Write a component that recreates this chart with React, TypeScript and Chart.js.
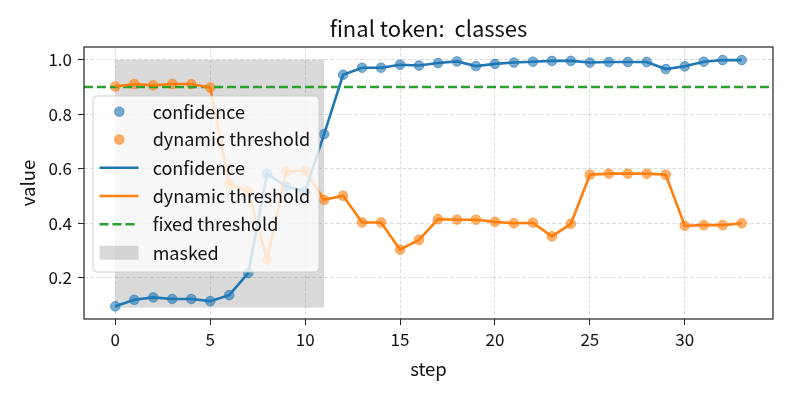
import React, { useEffect, useRef } from "react";
import { Chart, registerables } from "chart.js";

Chart.register(...registerables);

const TITLE = "final token:  classes";
const X_LABEL = "step";
const Y_LABEL = "value";
const STEPS = Array.from({ length: 34 }, (_, i) => i);
const CONFIDENCE = [
  0.095, 0.119, 0.128, 0.122, 0.122, 0.114, 0.136, 0.217, 0.582, 0.535, 0.517, 0.727,
  0.945, 0.971, 0.971, 0.982, 0.979, 0.988, 0.994, 0.977, 0.985, 0.99, 0.993, 0.996,
  0.996, 0.99, 0.992, 0.992, 0.992, 0.966, 0.976, 0.993, 0.999, 0.999,
];
const DYNAMIC = [
  0.902, 0.911, 0.906, 0.911, 0.911, 0.898, 0.545, 0.517, 0.266, 0.59, 0.593, 0.486,
  0.501, 0.403, 0.403, 0.303, 0.339, 0.415, 0.413, 0.413, 0.405, 0.4, 0.402, 0.352,
  0.398, 0.578, 0.582, 0.582, 0.582, 0.578, 0.391, 0.393, 0.393, 0.4,
];
const FIXED_THRESHOLD = 0.9;
const MASK_X = [0, 11];
const MASK_Y = [0.09, 1.0];
const X_TICKS = [0, 5, 10, 15, 20, 25, 30];
const Y_TICKS = [0.2, 0.4, 0.6, 0.8, 1.0];
const X_RANGE = [-1.65, 34.65];
const Y_RANGE = [0.0485, 1.047];
const LEGEND_LABELS = [
  "confidence",
  "dynamic threshold",
  "confidence",
  "dynamic threshold",
  "fixed threshold",
  "masked",
];

const BLUE = "#1f77b4";
const ORANGE = "#ff7f0e";
const GREEN = "#2ca02c";
const BLUE_A = "rgba(31,119,180,0.6)";
const ORANGE_A = "rgba(255,127,14,0.6)";
const FONT = "'Noto Sans CJK SC', 'Noto Sans', sans-serif";
const GREEN_DASH = [9, 4];

export default function App() {
  const ref = useRef<HTMLCanvasElement | null>(null);

  useEffect(() => {
    if (!ref.current) return;
    const pts = (ys: number[]) => STEPS.map((x, i) => ({ x, y: ys[i] }));

    const deco = {
      id: "deco",
      beforeDatasetsDraw(chart: any) {
        const { ctx, scales } = chart;
        const xs = scales.x, ys = scales.y;
        const a = chart.chartArea;
        ctx.save();
        ctx.beginPath();
        ctx.rect(a.left, a.top, a.right - a.left, a.bottom - a.top);
        ctx.clip();
        const x0 = xs.getPixelForValue(MASK_X[0]);
        const x1 = xs.getPixelForValue(MASK_X[1]);
        const y0 = ys.getPixelForValue(MASK_Y[1]);
        const y1 = ys.getPixelForValue(MASK_Y[0]);
        ctx.fillStyle = "rgba(128,128,128,0.3)";
        ctx.fillRect(x0, y0, x1 - x0, y1 - y0);
        ctx.restore();
      },
      afterDraw(chart: any) {
        const { ctx } = chart;
        const a = chart.chartArea;
        ctx.save();
        // frame
        ctx.strokeStyle = "#222";
        ctx.lineWidth = 1.2;
        ctx.strokeRect(a.left, a.top, a.right - a.left, a.bottom - a.top);
        // title and axis labels
        ctx.fillStyle = "#111";
        ctx.textAlign = "center";
        ctx.textBaseline = "alphabetic";
        ctx.font = `22px ${FONT}`;
        ctx.fillText(TITLE, (a.left + a.right) / 2, 37);
        ctx.font = `18.5px ${FONT}`;
        ctx.textBaseline = "middle";
        ctx.fillText(X_LABEL, (a.left + a.right) / 2, 369);
        ctx.save();
        ctx.translate(28, (a.top + a.bottom) / 2);
        ctx.rotate(-Math.PI / 2);
        ctx.fillText(Y_LABEL, 0, 0);
        ctx.restore();

        // legend
        const lx = 93, ly = 96, lw = 226, lh = 176;
        ctx.beginPath();
        (ctx as any).roundRect(lx, ly, lw, lh, 4);
        ctx.fillStyle = "rgba(255,255,255,0.8)";
        ctx.fill();
        ctx.strokeStyle = "rgba(204,204,204,0.9)";
        ctx.lineWidth = 1;
        ctx.stroke();
        const rowY = [111.7, 139.5, 167.8, 196, 224.3, 252.8];
        const hx0 = 99.5, hx1 = 138.5, hc = 119.3, tx = 152.7;
        ctx.font = `18px ${FONT}`;
        ctx.textAlign = "left";
        ctx.textBaseline = "middle";
        rowY.forEach((y, i) => {
          if (i === 0 || i === 1) {
            ctx.beginPath();
            ctx.arc(hc, y, 4.8, 0, Math.PI * 2);
            ctx.fillStyle = i === 0 ? BLUE_A : ORANGE_A;
            ctx.fill();
            ctx.strokeStyle = i === 0 ? BLUE_A : ORANGE_A;
            ctx.lineWidth = 1;
            ctx.stroke();
          } else if (i === 2 || i === 3 || i === 4) {
            ctx.beginPath();
            ctx.moveTo(hx0, y);
            ctx.lineTo(hx1, y);
            ctx.strokeStyle = i === 2 ? BLUE : i === 3 ? ORANGE : GREEN;
            ctx.lineWidth = 2.6;
            ctx.setLineDash(i === 4 ? GREEN_DASH : []);
            ctx.stroke();
            ctx.setLineDash([]);
          } else {
            ctx.fillStyle = "rgba(128,128,128,0.3)";
            ctx.fillRect(hx0, y - 7, hx1 - hx0, 14);
          }
          ctx.fillStyle = "#111";
          ctx.fillText(LEGEND_LABELS[i], tx, y);
        });
        ctx.restore();
      },
    };

    const gridOpts: any = {
      color: "rgba(176,176,176,0.55)",
      lineWidth: 0.8,
      tickColor: "#222",
      tickLength: 6,
      tickWidth: 1,
      tickBorderDash: [],
    };

    const chart = new Chart(ref.current, {
      type: "scatter",
      data: {
        datasets: [
          {
            label: "confidence line",
            data: pts(CONFIDENCE),
            showLine: true,
            borderColor: BLUE,
            borderWidth: 2.6,
            pointRadius: 0,
          },
          {
            label: "dynamic line",
            data: pts(DYNAMIC),
            showLine: true,
            borderColor: ORANGE,
            borderWidth: 2.6,
            pointRadius: 0,
          },
          {
            label: "fixed threshold",
            data: [
              { x: X_RANGE[0], y: FIXED_THRESHOLD },
              { x: X_RANGE[1], y: FIXED_THRESHOLD },
            ],
            showLine: true,
            borderColor: GREEN,
            borderWidth: 2.6,
            borderDash: GREEN_DASH,
            pointRadius: 0,
          },
          {
            label: "confidence",
            data: pts(CONFIDENCE),
            backgroundColor: BLUE_A,
            borderColor: BLUE_A,
            borderWidth: 1,
            pointRadius: 4.8,
          },
          {
            label: "dynamic threshold",
            data: pts(DYNAMIC),
            backgroundColor: ORANGE_A,
            borderColor: ORANGE_A,
            borderWidth: 1,
            pointRadius: 4.8,
          },
        ] as any,
      },
      options: {
        animation: false,
        responsive: false,
        devicePixelRatio: 1,
        layout: { padding: { left: 0, right: 20, top: 47, bottom: 0 } },
        plugins: { legend: { display: false }, tooltip: { enabled: false }, title: { display: false } },
        scales: {
          x: {
            type: "linear",
            min: X_RANGE[0],
            max: X_RANGE[1],
            afterBuildTicks: (s: any) => {
              s.ticks = X_TICKS.map((v) => ({ value: v }));
            },
            afterFit: (s: any) => {
              s.height = 78;
            },
            ticks: {
              font: { family: FONT, size: 17 },
              color: "#111",
              padding: 4,
              maxRotation: 0,
              callback: (v: any) => String(v),
            },
            grid: gridOpts,
            border: { display: false, dash: [4, 2] } as any,
          },
          y: {
            type: "linear",
            min: Y_RANGE[0],
            max: Y_RANGE[1],
            afterBuildTicks: (s: any) => {
              s.ticks = Y_TICKS.map((v) => ({ value: v }));
            },
            afterFit: (s: any) => {
              s.width = 84;
            },
            ticks: {
              font: { family: FONT, size: 17 },
              color: "#111",
              padding: 6,
              callback: (v: any) => Number(v).toFixed(1),
            },
            grid: gridOpts,
            border: { display: false, dash: [4, 2] } as any,
          },
        },
      },
      plugins: [deco],
    });
    return () => chart.destroy();
  }, []);

  return (
    <div style={{ position: "fixed", left: 0, top: 0, width: 793, height: 397, background: "#fff" }}>
      <canvas ref={ref} width={793} height={397} style={{ width: 793, height: 397 }} />
    </div>
  );
}
